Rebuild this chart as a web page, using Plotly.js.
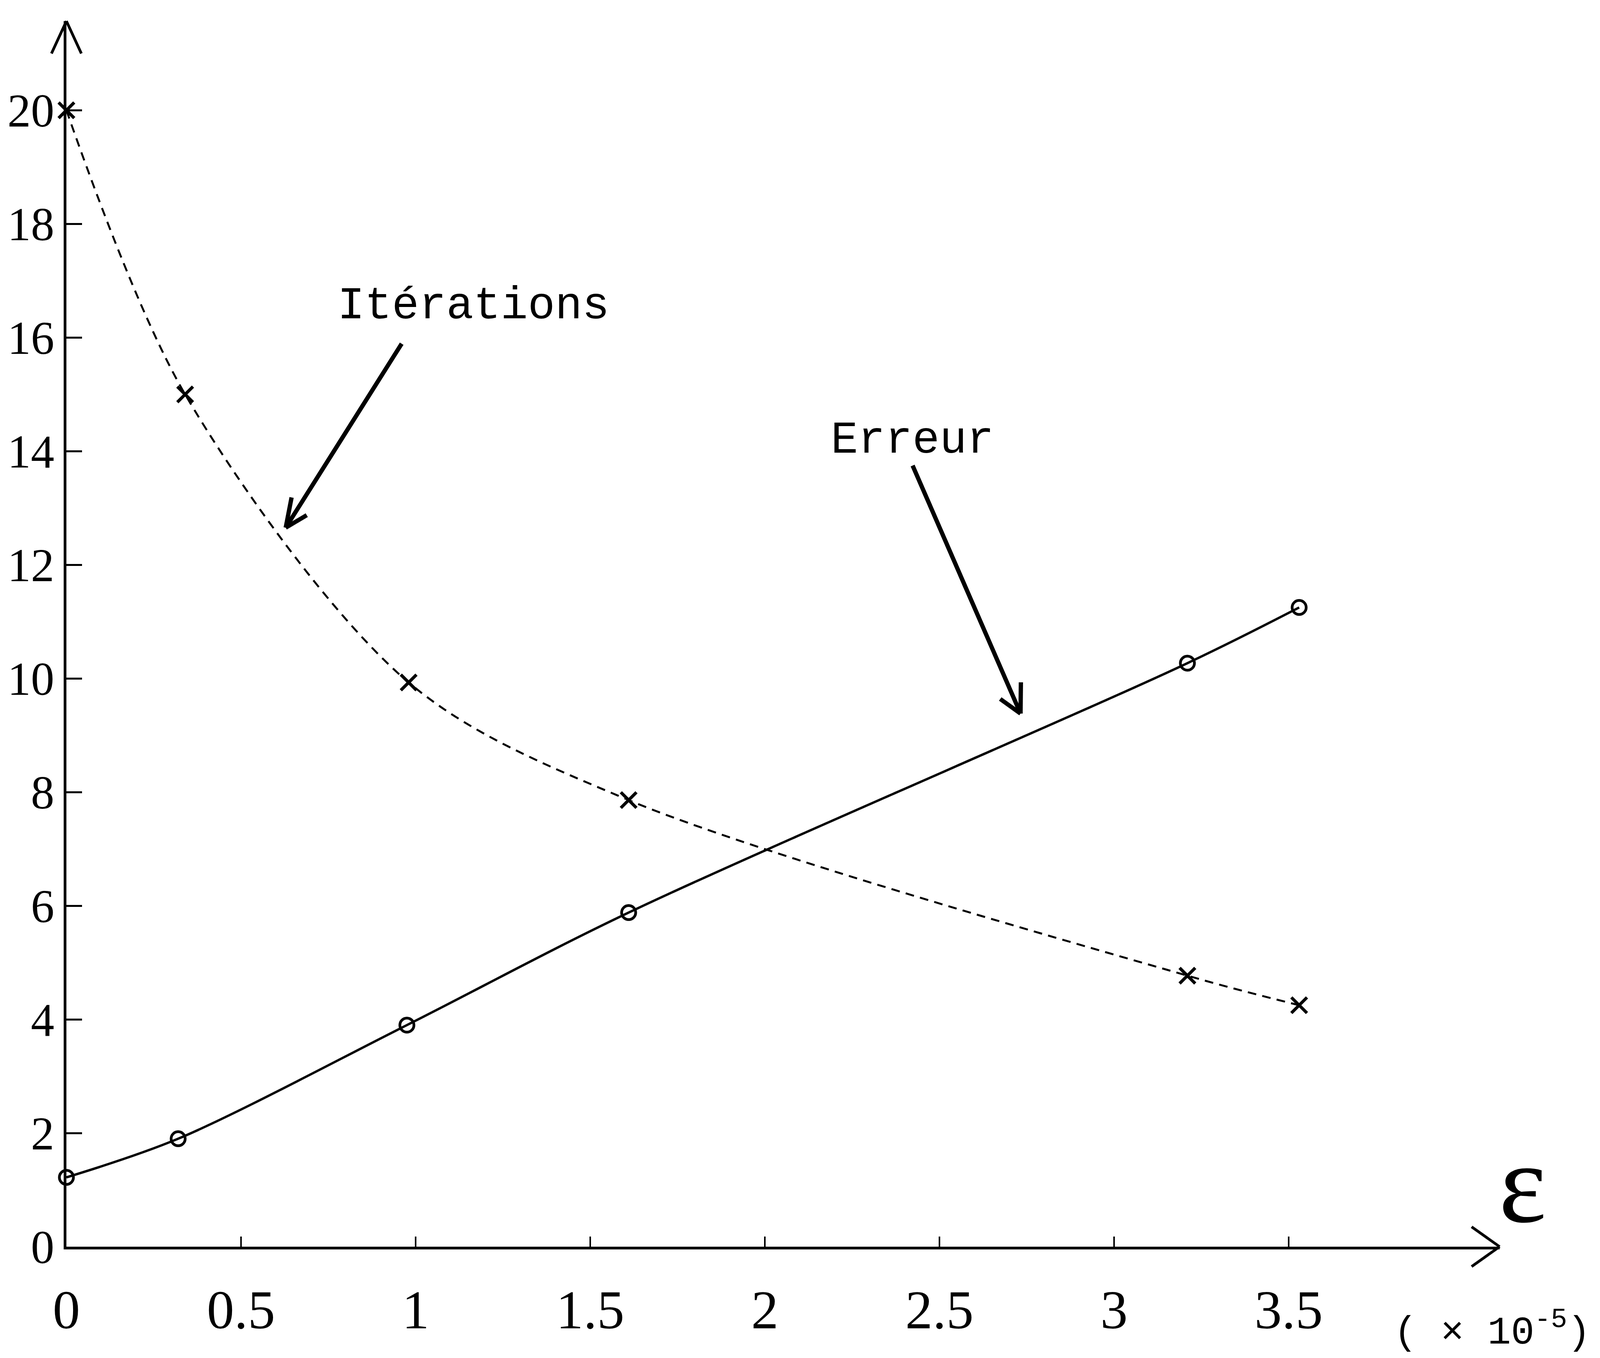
<!DOCTYPE html>
<html><head><meta charset="utf-8">
<script src="https://cdn.plot.ly/plotly-3.0.1.min.js"></script>
<style>html,body{margin:0;padding:0;background:#fff;overflow:hidden;}</style>
</head><body>
<div id="chart"></div>
<script>
// ---- data ----
const epsIter    = [0, 0.34, 0.98, 1.61, 3.21, 3.53];
const iterations = [20, 15.0, 9.93, 7.86, 4.77, 4.25];
const epsErr     = [0, 0.32, 0.975, 1.61, 3.21, 3.53];
const erreur     = [1.22, 1.90, 3.90, 5.88, 10.27, 11.25];
const xTickVals  = [0, 0.5, 1, 1.5, 2, 2.5, 3, 3.5];
const xTickText  = ['0', '0.5', '1', '1.5', '2', '2.5', '3', '3.5'];
const yTickVals  = [0, 2, 4, 6, 8, 10, 12, 14, 16, 18, 20];
const yTickText  = ['0', '2', '4', '6', '8', '10', '12', '14', '16', '18', '20'];

// ---- geometry: designed on a 5575 x 3477 frame, fitted to the viewport ----
const RW = 5575, RH = 3477;
const W = Math.min(RW, window.innerWidth || RW);
const H = Math.min(RH, window.innerHeight || RH);
const sx = W / RW, sy = H / RH;
const RL = 232, RR = 350, RT = 54, RB = 285;
const RPW = RW - RL - RR, RPH = RH - RT - RB;
const XMAX = 4.104, YMAX = 21.57;
const paperX = px => (px - RL) / RPW;      // px in reference-frame pixels
const paperY = py => (RT + RPH - py) / RPH;
const refX = v => RL + v / XMAX * RPW;
const refY = v => RT + RPH - v / YMAX * RPH;

document.getElementById('chart').style.width = W + 'px';
document.getElementById('chart').style.height = H + 'px';

function seg(x0, y0, x1, y1, w) {
  return {type: 'line', xref: 'paper', yref: 'paper', layer: 'above',
    x0: paperX(x0), y0: paperY(y0), x1: paperX(x1), y1: paperY(y1),
    line: {color: '#000', width: w}};
}
function head(hx, hy, ux, uy, w, len, ang) {
  const out = [];
  [ang, -ang].forEach(a => {
    const c = Math.cos(a), s = Math.sin(a);
    const rx = ux * c - uy * s, ry = ux * s + uy * c;
    out.push(seg(hx, hy, hx - rx * len, hy - ry * len, w));
  });
  return out;
}
function arrow(tx, ty, hx, hy, w, len, ang) {
  const dx = hx - tx, dy = hy - ty, d = Math.hypot(dx, dy);
  return [seg(tx, ty, hx, hy, w)].concat(head(hx, hy, dx / d, dy / d, w, len, ang));
}

const shapes = [].concat(
  head(refX(XMAX), refY(0), 1, 0, 7, 110, 0.48),
  head(refX(0), refY(YMAX), 0, -1, 7, 98, 0.56),
  arrow(1400, 880, 996, 1351, 11, 80, 0.45),
  arrow(3180, 1192, 3556, 1827, 11, 80, 0.55)
);

const traces = [
  {x: epsIter, y: iterations, type: 'scatter', mode: 'lines+markers',
   name: 'Itérations', cliponaxis: false,
   line: {color: '#000', width: 5, dash: '22px,16px', shape: 'spline', smoothing: 0.9},
   marker: {symbol: 'x-thin', size: 40, color: '#000', line: {color: '#000', width: 8}}},
  {x: epsErr, y: erreur, type: 'scatter', mode: 'lines+markers',
   name: 'Erreur', cliponaxis: false,
   line: {color: '#000', width: 6, shape: 'spline', smoothing: 0.9},
   marker: {symbol: 'circle-open', size: 36, color: '#000', line: {color: '#000', width: 7}}}
];

const xTickFont = {family: 'Liberation Serif, Times New Roman, serif', size: 140, color: '#000'};
const yTickFont = {family: 'Liberation Serif, Times New Roman, serif', size: 120, color: '#000'};
const monoFont = {family: 'Liberation Mono, Courier New, monospace', size: 116, color: '#000'};

const layout = {
  width: W, height: H,
  margin: {l: RL * sx, r: RR * sx, t: RT * sy, b: RB * sy, pad: 0},
  paper_bgcolor: '#fff', plot_bgcolor: '#fff',
  showlegend: false,
  font: {family: 'Liberation Serif, serif', color: '#000'},
  xaxis: {range: [0, XMAX], showgrid: false, zeroline: false,
    showline: true, linecolor: '#000', linewidth: 7,
    ticks: 'inside', ticklen: 26, tickwidth: 4, tickcolor: '#000',
    tickvals: xTickVals, ticktext: xTickText, tickfont: xTickFont,
    ticklabelstandoff: 34},
  yaxis: {range: [0, YMAX], showgrid: false, zeroline: false,
    showline: true, linecolor: '#000', linewidth: 7,
    ticks: 'inside', ticklen: 40, tickwidth: 5, tickcolor: '#000',
    tickvals: yTickVals, ticktext: yTickText, tickfont: yTickFont,
    ticklabelstandoff: 0},
  shapes: shapes,
  annotations: [
    {xref: 'paper', yref: 'paper', x: paperX(1650), y: paperY(784),
     text: 'Itérations', showarrow: false, font: monoFont,
     xanchor: 'center', yanchor: 'middle'},
    {xref: 'paper', yref: 'paper', x: paperX(3180), y: paperY(1128),
     text: 'Erreur', showarrow: false, font: monoFont,
     xanchor: 'center', yanchor: 'middle'},
    {xref: 'paper', yref: 'paper', x: paperX(5305), y: paperY(3030),
     text: 'ε', showarrow: false,
     font: {family: 'Liberation Serif, serif', size: 290, color: '#000'},
     xanchor: 'center', yanchor: 'middle'},
    {xref: 'paper', yref: 'paper', x: paperX(5545), y: paperY(3405),
     text: '( × 10<sup>-5</sup>)', showarrow: false,
     font: {family: 'Liberation Mono, Courier New, monospace', size: 100, color: '#000'},
     xanchor: 'right', yanchor: 'middle'}
  ]
};

Plotly.newPlot('chart', traces, layout, {staticPlot: true, displayModeBar: false});
</script>
</body></html>
